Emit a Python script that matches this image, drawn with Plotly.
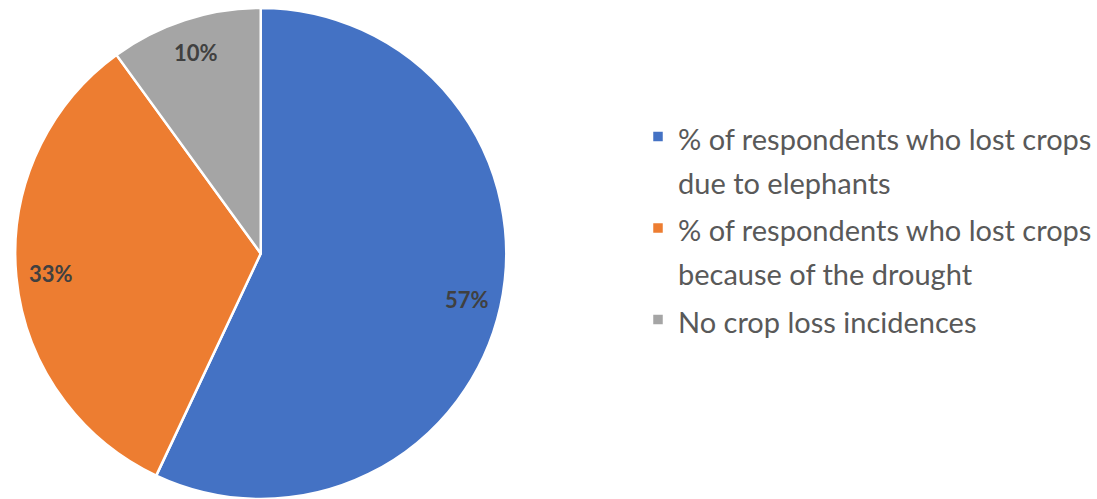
import math
import plotly.graph_objects as go

# ---- data ----
labels = [
    "% of respondents who lost crops<br>due to elephants",
    "% of respondents who lost crops<br>because of the drought",
    "No crop loss incidences",
]
values = [57, 33, 10]
colors = ["#4472C4", "#ED7D31", "#A5A5A5"]

W, H = 1097, 499
dom_x = [0.0128, 0.463]
dom_y = [0.0, 0.984]

# visible legend glyphs are smaller than the legend font so the line spacing is looser
legend_names = [
    "<br>".join(f'<span style="font-size:29px">{part}</span>' for part in lab.split("<br>"))
    for lab in labels
]

fig = go.Figure(
    go.Pie(
        labels=legend_names,
        values=values,
        sort=False,
        direction="clockwise",
        rotation=0,
        marker=dict(colors=colors, line=dict(color="white", width=2.5)),
        textinfo="none",
        hoverinfo="percent",
        domain=dict(x=dom_x, y=dom_y),
    )
)

# percentage labels placed near the rim, computed from the values
cx = (dom_x[0] + dom_x[1]) / 2 * W
cy = (1 - (dom_y[0] + dom_y[1]) / 2) * H
R = min((dom_x[1] - dom_x[0]) * W, (dom_y[1] - dom_y[0]) * H) / 2
total = sum(values)
cum = 0
for v in values:
    mid = (cum + v / 2) / total * 2 * math.pi
    cum += v
    r = 0.86 * R
    px = cx + r * math.sin(mid)
    py = cy - r * math.cos(mid)
    fig.add_annotation(
        x=px / W, y=1 - py / H, xref="paper", yref="paper",
        xanchor="center", yanchor="middle",
        text=f"<b>{round(v / total * 100)}%</b>", showarrow=False,
        font=dict(family="Lato", size=22, color="#404040"),
    )

fig.update_layout(
    width=W, height=H,
    margin=dict(l=0, r=0, t=0, b=0),
    paper_bgcolor="white",
    plot_bgcolor="white",
    showlegend=True,
    legend=dict(
        x=0.582, y=0.7836, xanchor="left", yanchor="top",
        valign="top",
        font=dict(family="Lato", size=34, color="#595959"),
        bgcolor="rgba(0,0,0,0)",
    ),
)

fig.write_html(
    "out.html",
    config={"displayModeBar": False},
    post_script="document.body.style.margin='0px';",
)
